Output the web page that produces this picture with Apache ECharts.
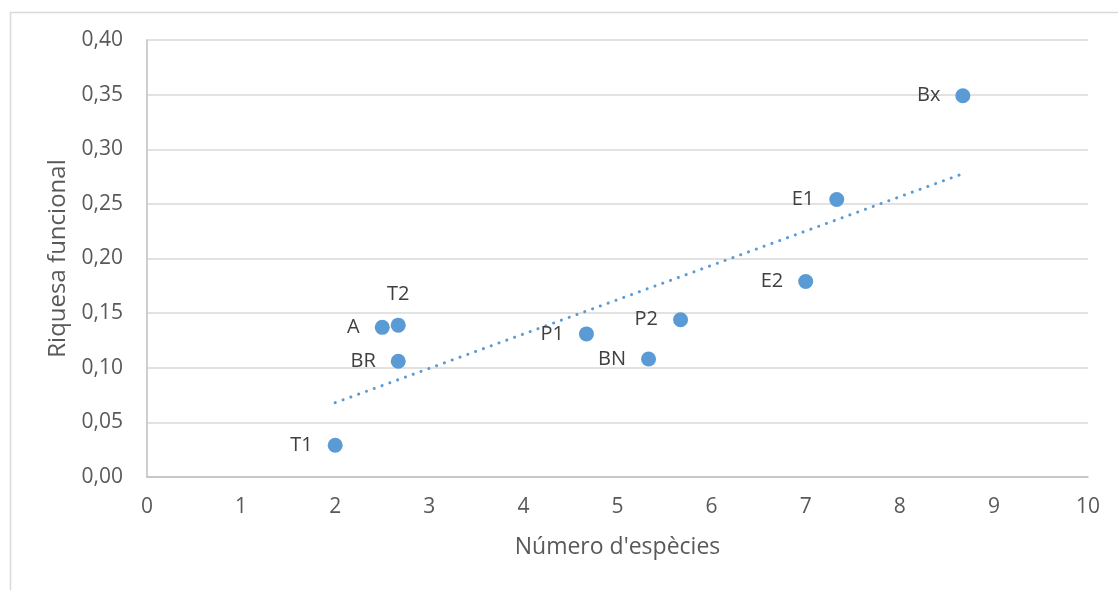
<!DOCTYPE html>
<html>
<head>
<meta charset="utf-8">
<script src="https://cdn.jsdelivr.net/npm/echarts@6/dist/echarts.min.js"></script>
<style>
html,body{margin:0;padding:0;background:#fff;}
#chart{width:1118px;height:590px;}
</style>
</head>
<body>
<div id="chart"></div>
<script>
// Data
const pointNames = ['T1','A','T2','BR','P1','BN','P2','E2','E1','Bx'];
const speciesCount = [2, 2.5, 2.67, 2.67, 4.67, 5.33, 5.67, 7, 7.33, 8.67];
const functionalRichness = [0.029, 0.137, 0.139, 0.106, 0.131, 0.108, 0.144, 0.179, 0.254, 0.349];
const labelPositions = ['left','left','top','left','left','left','left','left','left','left'];
const xTitle = "Número d'espècies";
const yTitle = 'Riquesa funcional';

// Linear trendline (least squares) from the data
const n = speciesCount.length;
const mx = speciesCount.reduce((a,b)=>a+b,0)/n;
const my = functionalRichness.reduce((a,b)=>a+b,0)/n;
let sxy=0, sxx=0;
for(let i=0;i<n;i++){sxy+=(speciesCount[i]-mx)*(functionalRichness[i]-my);sxx+=(speciesCount[i]-mx)**2;}
const slope = sxy/sxx, intercept = my - slope*mx;
const xMin = Math.min(...speciesCount), xMax = Math.max(...speciesCount);
const trend = [[xMin, intercept+slope*xMin],[xMax, intercept+slope*xMax]];

const font = '"Open Sans", "Noto Sans", sans-serif';
const chart = echarts.init(document.getElementById('chart'));
chart.setOption({
  animation:false,
  backgroundColor:'#fff',
  graphic:[{type:'rect',left:8,top:10,shape:{width:1300,height:800},style:{fill:'none',stroke:'#d9d9d9',lineWidth:1.5},silent:true,z:-1}],
  grid:{left:147,right:30,top:40,bottom:113},
  xAxis:{type:'value',min:0,max:10,interval:1,
    name:xTitle,nameLocation:'middle',nameGap:59,
    nameTextStyle:{fontFamily:font,fontSize:23,color:'#595959'},
    axisLine:{show:true,lineStyle:{color:'#bfbfbf',width:1.5}},
    axisTick:{show:false},
    splitLine:{show:false},
    axisLabel:{fontFamily:font,fontSize:21,color:'#595959',margin:20}
  },
  yAxis:{type:'value',min:0,max:0.4,interval:0.05,
    name:yTitle,nameLocation:'middle',nameGap:73,
    nameTextStyle:{fontFamily:font,fontSize:24,color:'#595959'},
    axisLine:{show:true,lineStyle:{color:'#bfbfbf',width:1.5}},
    axisTick:{show:false},
    splitLine:{show:true,lineStyle:{color:'#d9d9d9',width:1.5}},
    axisLabel:{fontFamily:font,fontSize:21,color:'#595959',margin:24,
      formatter:v=>v.toFixed(2).replace('.',',')}
  },
  series:[
    {type:'line',data:trend,symbol:'none',z:1,
      lineStyle:{color:'#5b9bd5',width:3,type:[0.1,8.2],cap:'round'}},
    {type:'scatter',symbolSize:15,z:3,
      itemStyle:{color:'#5b9bd5',opacity:1},
      data:speciesCount.map((x,i)=>({value:[x,functionalRichness[i]],name:pointNames[i],
        label:{show:true,position:labelPositions[i],distance:labelPositions[i]==='top'?13:15}})),
      label:{formatter:p=>p.name,fontFamily:font,fontSize:20,color:'#404040'}
    }
  ]
});
</script>
</body>
</html>
